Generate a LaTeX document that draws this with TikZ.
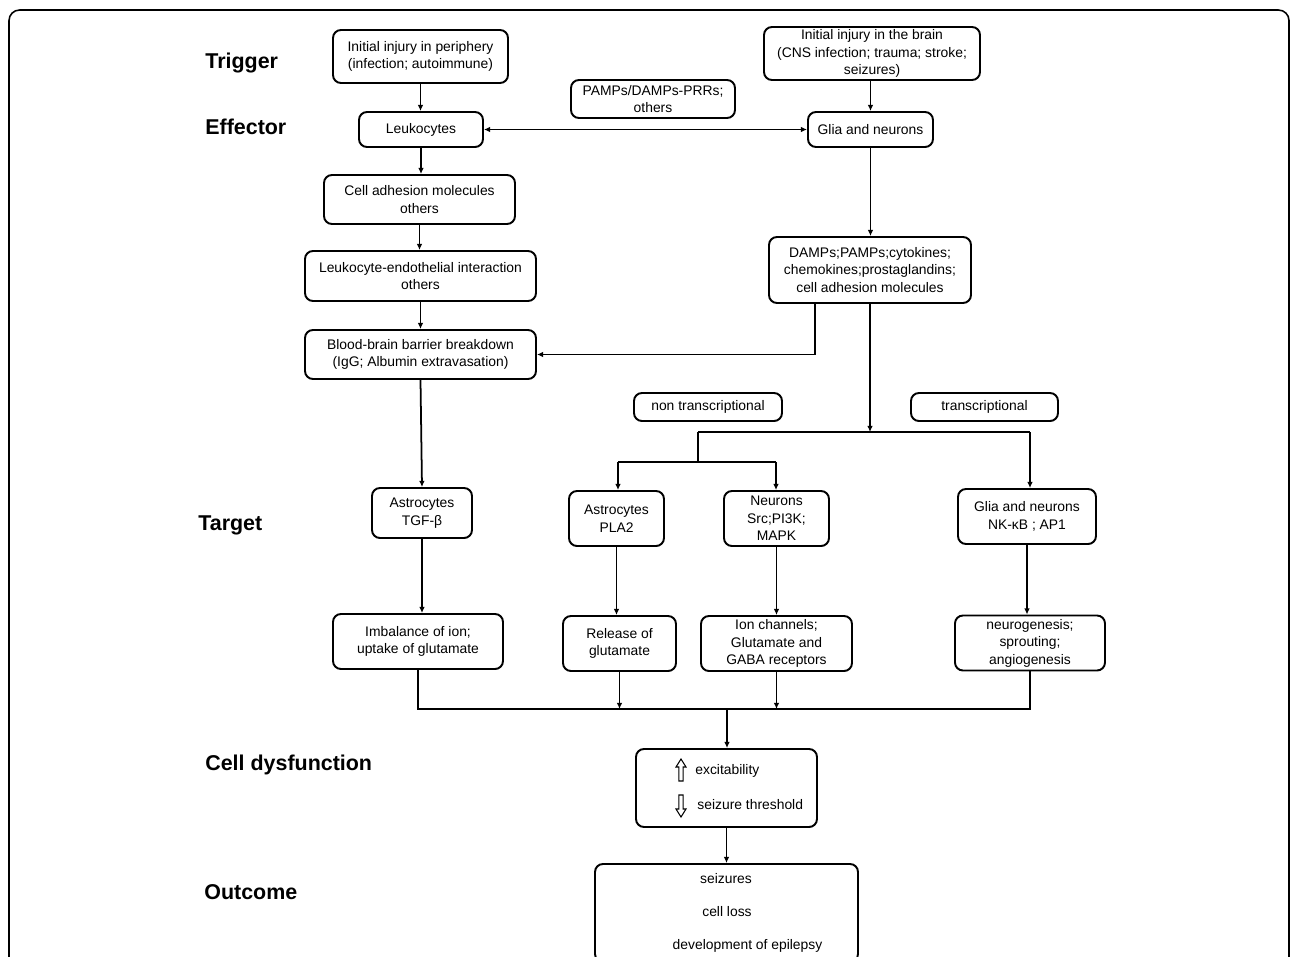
\documentclass[tikz,border=0pt]{standalone}
\usepackage{fontspec}
\setmainfont{Liberation Sans}
\usetikzlibrary{arrows.meta}
\tikzset{
  bx/.style={draw, rounded corners=4.5pt, line width=1.1pt, align=center, inner sep=0pt,
    font=\fontsize{7.9}{10}\selectfont},
  lbl/.style={anchor=west, inner sep=0pt, font=\fontsize{12.2}{14}\selectfont\bfseries},
  txt/.style={inner sep=0pt, font=\fontsize{7.9}{10}\selectfont},
  arr/.style={line width=1pt, -{Latex[length=3.5pt,width=3.2pt]}},
  ln/.style={line width=1pt},
  hollow/.style={draw, line width=0.6pt, fill=white}
}
\begin{document}
\begin{tikzpicture}[x=0.02cm,y=-0.02cm]
\useasboundingbox (0,0) rectangle (1292,957);
% outer frame
\draw[line width=0.9pt, rounded corners=6pt] (9,975) -- (9,10) -- (1289,10) -- (1289,975);

% stage labels
\node[lbl] (ltrig) at (205,63) {Trigger};
\node[lbl] (leff) at (205,127) {Effector};
\node[lbl] (ltarg) at (198,525) {Target};
\node[lbl] (lcell) at (205,765) {Cell dysfunction};
\node[lbl] (lout) at (204,892) {Outcome};

% boxes
\node[bx, minimum width=3.5cm, minimum height=1.06cm] (inj1) at (420.5,56.5) {Initial injury in periphery\\(infection; autoimmune)};
\node[bx, minimum width=4.32cm, minimum height=1.06cm] (inj2) at (872,53.5) {Initial injury in the brain\\(CNS infection; trauma; stroke;\\seizures)};
\node[bx, minimum width=3.28cm, minimum height=0.76cm] (pamps) at (653,99) {PAMPs/DAMPs-PRRs;\\others};
\node[bx, minimum width=2.48cm, minimum height=0.70cm] (leuk) at (421,129.5) {Leukocytes};
\node[bx, minimum width=2.5cm, minimum height=0.70cm] (glia1) at (870.5,129.5) {Glia and neurons};
\node[bx, minimum width=3.82cm, minimum height=0.98cm] (cam) at (419.5,199.5) {Cell adhesion molecules\\others};
\node[bx, minimum width=4.62cm, minimum height=1.0cm] (lei) at (420.5,276) {Leukocyte-endothelial interaction\\others};
\node[bx, minimum width=4.04cm, minimum height=1.32cm] (damps) at (870,270) {DAMPs;PAMPs;cytokines;\\chemokines;prostaglandins;\\cell adhesion molecules};
\node[bx, minimum width=4.62cm, minimum height=0.98cm] (bbb) at (420.5,354.5) {Blood-brain barrier breakdown\\(IgG; Albumin extravasation)};
\node[bx, minimum width=2.96cm, minimum height=0.56cm] (nontr) at (708,407) {non transcriptional};
\node[bx, minimum width=2.94cm, minimum height=0.56cm] (trans) at (984.5,407) {transcriptional};
\node[bx, minimum width=2.0cm, minimum height=1.0cm] (astro1) at (422,513) {Astrocytes\\TGF-β};
\node[bx, minimum width=1.9cm, minimum height=1.1cm] (astro2) at (616.5,518.5) {Astrocytes\\PLA2};
\node[bx, minimum width=2.1cm, minimum height=1.1cm] (neur) at (776.5,518.5) {Neurons\\Src;PI3K;\\MAPK};
\node[bx, minimum width=2.76cm, minimum height=1.1cm] (glia2) at (1027,516.5) {Glia and neurons\\NK-κB ; AP1};
\node[bx, minimum width=3.4cm, minimum height=1.1cm] (imb) at (418,641.5) {Imbalance of ion;\\uptake of glutamate};
\node[bx, minimum width=2.26cm, minimum height=1.1cm] (rel) at (619.5,643.5) {Release of\\glutamate};
\node[bx, minimum width=3.02cm, minimum height=1.1cm] (ion) at (776.5,643.5) {Ion channels;\\Glutamate and\\GABA receptors};
\node[bx, minimum width=3.0cm, minimum height=1.1cm] (neuro) at (1030,643) {neurogenesis;\\sprouting;\\angiogenesis};
\node[bx, minimum width=3.62cm, minimum height=1.56cm] (exc) at (726.5,788) {};
\node[bx, minimum width=5.26cm, minimum height=1.96cm] (out) at (726.5,913) {};

% texts inside exc / out
\node[txt, anchor=west] (texc) at (695,771) {excitability};
\node[txt, anchor=west] (tthr) at (697,805) {seizure threshold};
\node[txt] (tsz) at (726,879) {seizures};
\node[txt] (tcl) at (727,912) {cell loss};
\node[txt] (tdev) at (747.5,946) {development of epilepsy};

% hollow arrows
\draw[hollow] (681,759) -- (686,767) -- (683.2,767) -- (683.2,781) -- (678.8,781) -- (678.8,767) -- (676,767) -- cycle;
\draw[hollow] (681,817) -- (686,809) -- (683.2,809) -- (683.2,795) -- (678.8,795) -- (678.8,809) -- (676,809) -- cycle;

% coordinates
\coordinate (dl) at (815,0);
\coordinate (split) at (870,432);
\coordinate (s1) at (698,432);
\coordinate (s2) at (1030,432);
\coordinate (s3) at (698,462);
\coordinate (s4) at (618,462);
\coordinate (s5) at (776,462);
\coordinate (m) at (0,709);
\coordinate (mx) at (727,709);

% connectors
\draw[arr] (inj1.south) -- (inj1.south |- leuk.north);
\draw[arr] (glia1.north |- inj2.south) -- (glia1.north);
\draw[line width=1pt, {Latex[length=3.5pt,width=3.2pt]}-{Latex[length=3.5pt,width=3.2pt]}] (leuk.east) -- (glia1.west);
\draw[arr] (leuk.south) -- (leuk.south |- cam.north);
\draw[arr] (cam.south) -- (cam.south |- lei.north);
\draw[arr] (lei.south) -- (lei.south |- bbb.north);
\draw[arr] (glia1.south) -- (glia1.south |- damps.north);
\draw[arr] (damps.south -| dl) |- (bbb.east);
\draw[arr] (damps.south) -- (split);
\draw[ln] (s1) -- (s2);
\draw[arr] (s2) -- (s2 |- glia2.north);
\draw[ln] (s1) -- (s3);
\draw[ln] (s4) -- (s5);
\draw[arr] (s4) -- (s4 |- astro2.north);
\draw[arr] (s5) -- (s5 |- neur.north);
\draw[arr] (bbb.south) -- (astro1.north);
\draw[arr] (astro1.south) -- (astro1.south |- imb.north);
\draw[arr] (astro2.south) -- (astro2.south |- rel.north);
\draw[arr] (neur.south) -- (neur.south |- ion.north);
\draw[arr] (glia2.south) -- (glia2.south |- neuro.north);
\draw[ln] (imb.south) |- (neuro.south |- m) -- (neuro.south);
\draw[arr] (rel.south) -- (rel.south |- m);
\draw[arr] (ion.south) -- (ion.south |- m);
\draw[arr] (mx) -- (mx |- exc.north);
\draw[arr] (exc.south) -- (exc.south |- out.north);
\end{tikzpicture}
\end{document}
